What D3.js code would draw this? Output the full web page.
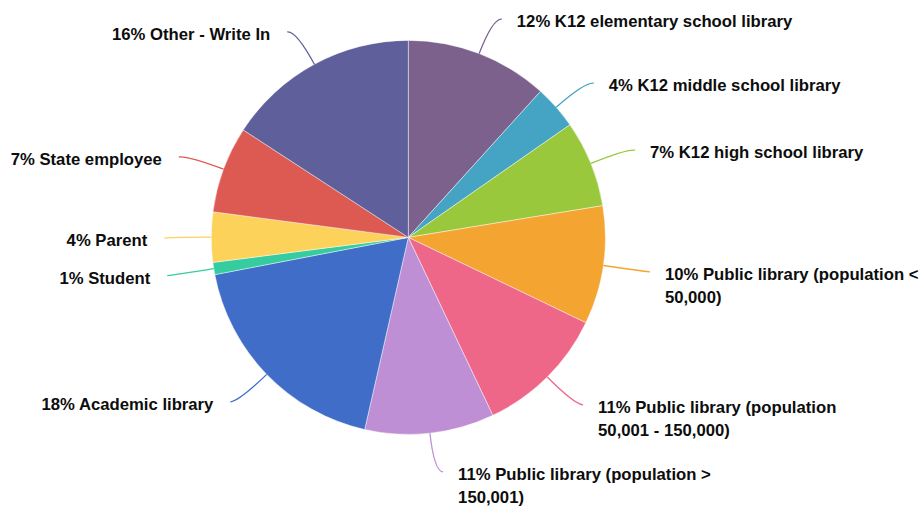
<!DOCTYPE html>
<html>
<head>
<meta charset="utf-8">
<script src="https://cdn.jsdelivr.net/npm/d3@7/dist/d3.min.js"></script>
<style>
  html, body { margin: 0; padding: 0; background: #fff; }
  svg { display: block; }
  .lbl { font-family: "Liberation Sans", Arial, Helvetica, sans-serif; font-weight: bold; font-size: 16.7px; fill: #0d0d0d; }
</style>
</head>
<body>
<div id="chart"></div>
<script>
// Respondent roles (share of responses, %)
const categories = [
  "K12 elementary school library",
  "K12 middle school library",
  "K12 high school library",
  "Public library (population < 50,000)",
  "Public library (population 50,001 - 150,000)",
  "Public library (population > 150,001)",
  "Academic library",
  "Student",
  "Parent",
  "State employee",
  "Other - Write In"
];
const shares = [11.7, 3.6, 7.1, 9.7, 10.8, 10.6, 18.4, 1.0, 4.1, 7.1, 15.8];
const colors = [
  "#7b618c", "#45a3c3", "#99c83c", "#f4a431", "#ef6788", "#bf8fd6",
  "#3f6dc8", "#35cda0", "#fcd25a", "#dc5a52", "#5f5f9b"
];

const W = 922, H = 510;
const cx = 408.3, cy = 237.4, R = 197;
const wrapWidth = 285, lineHeight = 23;

const total = d3.sum(shares);
const rows = categories.map((c, i) => ({ name: c, value: shares[i], color: colors[i] }));

const svg = d3.select("#chart").append("svg")
  .attr("width", W).attr("height", H);
const g = svg.append("g").attr("transform", `translate(${cx},${cy})`);

const pie = d3.pie().value(d => d.value).sort(null).startAngle(0).endAngle(2 * Math.PI);
const arc = d3.arc().innerRadius(0).outerRadius(R);
const arcs = pie(rows);

g.selectAll("path.slice").data(arcs).join("path")
  .attr("class", "slice")
  .attr("d", arc)
  .attr("fill", d => d.data.color)
  .attr("stroke", "#ffffff")
  .attr("stroke-opacity", 0.55)
  .attr("stroke-width", 0.8);

// point on the ray through a slice's middle
const ray = (a, r) => [r * Math.sin(a), -r * Math.cos(a)];

const leaders = arcs.map(d => {
  const a = (d.startAngle + d.endAngle) / 2;
  const right = Math.sin(a) >= 0;
  const p0 = ray(a, R);
  const c = ray(a, R + 38);
  const p1 = [c[0] + (right ? 9 : -9), c[1] + 1];
  return { d, a, right, p0, c, p1 };
});

g.selectAll("path.leader").data(leaders).join("path")
  .attr("class", "leader")
  .attr("d", l => `M${l.p0[0]},${l.p0[1]} Q${l.c[0]},${l.c[1]} ${l.p1[0]},${l.p1[1]}`)
  .attr("fill", "none")
  .attr("stroke", l => l.d.data.color)
  .attr("stroke-width", 1.3);

const texts = g.selectAll("text.lbl").data(leaders).join("text")
  .attr("class", "lbl")
  .attr("text-anchor", l => l.right ? "start" : "end")
  .attr("x", l => l.p1[0] + (l.right ? 15 : -17))
  .attr("y", l => l.p1[1] + 8);

// wrap each label into lines no wider than wrapWidth
texts.each(function (l) {
  const t = d3.select(this);
  const label = Math.round(l.d.data.value / total * 100) + "% " + l.d.data.name;
  const words = label.split(" ");
  const x = +t.attr("x");
  let line = [];
  let tspan = t.append("tspan").attr("x", x).attr("dy", 0);
  words.forEach(w => {
    line.push(w);
    tspan.text(line.join(" "));
    if (tspan.node().getComputedTextLength() > wrapWidth && line.length > 1) {
      line.pop();
      tspan.text(line.join(" "));
      line = [w];
      tspan = t.append("tspan").attr("x", x).attr("dy", lineHeight).text(w);
    }
  });
});
</script>
</body>
</html>
